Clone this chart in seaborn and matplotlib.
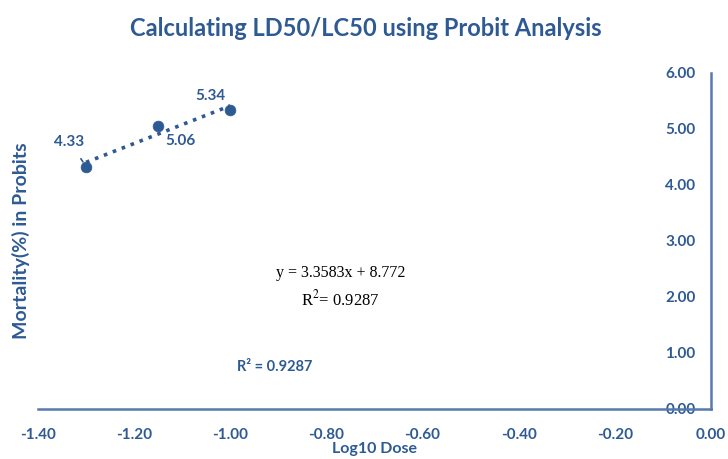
import numpy as np
import matplotlib
matplotlib.use("Agg")
import matplotlib.pyplot as plt
import seaborn as sns

# data
log_dose = [-1.30, -1.15, -1.00]
probit = [4.33, 5.06, 5.34]
point_labels = ["4.33", "5.06", "5.34"]
x_ticks = [-1.40, -1.20, -1.00, -0.80, -0.60, -0.40, -0.20, 0.00]
y_ticks = [0, 1, 2, 3, 4, 5, 6]
eq_text = "y = 3.3583x + 8.772"
r2_text = r"R$^{2}$= 0.9287"
r2_box = "R² = 0.9287"

sns.set_theme(style="white")
plt.rcParams["font.family"] = ["Lato", "DejaVu Sans"]

blue = "#2E5A94"
axis_blue = "#5679AE"

fig = plt.figure(figsize=(7.28, 4.59), dpi=100)
ax = fig.add_axes([38 / 728, 1 - 409 / 459, 673 / 728, 336 / 459])

sns.regplot(x=log_dose, y=probit, ci=None, ax=ax, color=blue,
            scatter_kws={"s": 60, "edgecolor": blue, "linewidths": 0.5, "alpha": 1},
            line_kws={"ls": ":", "lw": 2.6})

ax.set_xlim(-1.40, 0.0)
ax.set_ylim(0, 6)
ax.set_xticks(x_ticks)
ax.set_xticklabels([f"{t:.2f}" for t in x_ticks])
ax.set_yticks(y_ticks)
ax.set_yticklabels([f"{t:.2f}" for t in y_ticks])

for s in ["top", "left"]:
    ax.spines[s].set_visible(False)
for s in ["bottom", "right"]:
    ax.spines[s].set_color(axis_blue)
    ax.spines[s].set_linewidth(1.8)

ax.tick_params(axis="x", length=0, pad=14, labelsize=11, labelcolor=blue)
ax.tick_params(axis="y", left=False, labelleft=False, right=False, labelright=True,
               length=0, pad=-33, labelsize=11, labelcolor=blue)
for lab in ax.get_xticklabels() + ax.get_yticklabels():
    lab.set_fontweight("bold")

ax.set_xlabel("Log10 Dose", color=blue, fontsize=11.5, fontweight="bold")
ax.xaxis.set_label_coords(0.5, -0.097)
ax.set_ylabel("Mortality(%) in Probits", color=blue, fontsize=14, fontweight="bold")
ax.yaxis.set_label_position("left")
ax.yaxis.set_label_coords(-0.012, 0.5)

# point labels
offsets = [(-12, 18), (16, -11), (-14, 10)]
for x, y, t, off in zip(log_dose, probit, point_labels, offsets):
    ax.annotate(t, (x, y), xytext=off, textcoords="offset points", ha="center",
                va="center", color=blue, fontsize=11, fontweight="bold",
                arrowprops=dict(arrowstyle="-", color=blue, lw=1.2,
                                shrinkA=6, shrinkB=4) if t == "4.33" else None)

ax.text(-0.771, 2.43, eq_text, ha="center", va="center", fontsize=11.5,
        family="Liberation Serif", color="black")
ax.text(-0.77, 1.95, r2_text, ha="center", va="center", fontsize=12,
        family="Liberation Serif", math_fontfamily="stix", color="black")
ax.text(-0.908, 0.75, r2_box, ha="center", va="center", fontsize=10.5,
        fontweight="bold", color=blue)

fig.text(366 / 728, 1 - 28 / 459, "Calculating LD50/LC50 using Probit Analysis",
         ha="center", va="center", fontsize=17, fontweight="bold", color=blue)

fig.savefig("out.png", dpi=100)
